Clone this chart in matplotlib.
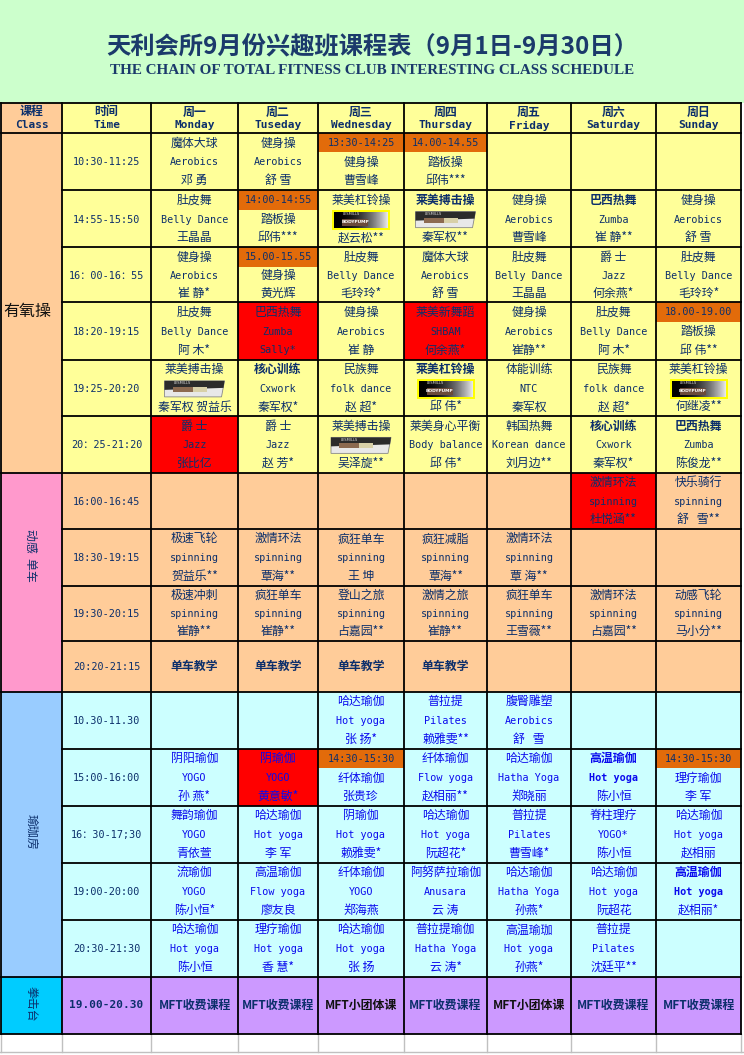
import matplotlib
matplotlib.use('Agg')
import matplotlib.pyplot as plt
from matplotlib.patches import Rectangle, Polygon
import numpy as np

# ---- data -------------------------------------------------------------
title_cn = '天利会所9月份兴趣班课程表（9月1日-9月30日）'
title_en = 'THE CHAIN OF TOTAL FITNESS CLUB INTERESTING CLASS SCHEDULE'

header_cn = ['课程', '时间', '周一', '周二', '周三', '周四', '周五', '周六', '周日']
header_en = ['Class', 'Time', 'Monday', 'Tuseday', 'Wednesday', 'Thursday',
             'Friday', 'Saturday', 'Sunday']

section_names = ['有氧操', '动感  单车', '瑜珈房', '拳击台']

aero_times = ['10:30-11:25', '14:55-15:50', '16：00-16：55', '18:20-19:15',
              '19:25-20:20', '20：25-21:20']
# '|' splits lines, '#PUMP' / '#COMBAT' are the Les Mills logos
aero_cells = [
    ['魔体大球|Aerobics|邓 勇', '健身操|Aerobics|舒 雪', '健身操|曹雪峰', '踏板操|邱伟***', '', '', ''],
    ['肚皮舞|Belly Dance|王晶晶', '踏板操|邱伟***', '莱美杠铃操|#PUMP|赵云松**',
     '莱美搏击操|#COMBAT|秦军权**', '健身操|Aerobics|曹雪峰', '巴西热舞|Zumba|崔 静**',
     '健身操|Aerobics|舒 雪'],
    ['健身操|Aerobics|崔 静*', '健身操|黄光辉', '肚皮舞|Belly Dance|毛玲玲*',
     '魔体大球|Aerobics|舒 雪', '肚皮舞|Belly Dance|王晶晶', '爵 士|Jazz|何余燕*',
     '肚皮舞|Belly Dance|毛玲玲*'],
    ['肚皮舞|Belly Dance|阿 木*', '巴西热舞|Zumba|Sally*', '健身操|Aerobics|崔 静',
     '莱美新舞蹈|SHBAM|何余燕*', '健身操|Aerobics|崔静**', '肚皮舞|Belly Dance|阿 木*',
     '踏板操|邱 伟**'],
    ['莱美搏击操|#COMBAT|秦军权 贺益乐', '核心训练|Cxwork|秦军权*', '民族舞|folk dance|赵 超*',
     '莱美杠铃操|#PUMP|邱 伟*', '体能训练|NTC|秦军权', '民族舞|folk dance|赵 超*',
     '莱美杠铃操|#PUMP|何继凌**'],
    ['爵 士|Jazz|张比亿', '爵 士|Jazz|赵 芳*', '莱美搏击操|#COMBAT|吴泽旋**',
     '莱美身心平衡|Body balance|邱 伟*', '韩国热舞|Korean dance|刘月边**',
     '核心训练|Cxwork|秦军权*', '巴西热舞|Zumba|陈俊龙**'],
]
aero_banners = {(0, 2): '13:30-14:25', (0, 3): '14.00-14.55', (1, 1): '14:00-14:55',
                (2, 1): '15.00-15.55', (3, 6): '18.00-19.00'}
aero_red = [(3, 1), (3, 3), (5, 0)]
aero_bold = [(1, 3), (1, 5), (4, 1), (4, 3), (5, 5), (5, 6)]

spin_times = ['16:00-16:45', '18:30-19:15', '19:30-20:15', '20:20-21:15']
spin_cells = [
    ['', '', '', '', '', '激情环法|spinning|杜悦涵**', '快乐骑行|spinning|舒   雪**'],
    ['极速飞轮|spinning|贺益乐**', '激情环法|spinning|覃海**', '疯狂单车|spinning|王 坤',
     '疯狂减脂|spinning|覃海**', '激情环法|spinning|覃 海**', '', ''],
    ['极速冲刺|spinning|崔静**', '疯狂单车|spinning|崔静**', '登山之旅|spinning|占嘉园**',
     '激情之旅|spinning|崔静**', '疯狂单车|spinning|王雪薇**', '激情环法|spinning|占嘉园**',
     '动感飞轮|spinning|马小分**'],
    ['单车教学', '单车教学', '单车教学', '单车教学', '', '', ''],
]
spin_red = [(0, 5)]

yoga_times = ['10.30-11.30', '15:00-16:00', '16：30-17;30', '19:00-20:00', '20:30-21:30']
yoga_cells = [
    ['', '', '哈达瑜伽|Hot yoga|张 扬*', '普拉提|Pilates|赖雅雯**', '腹臀雕塑|Aerobics|舒   雪', '', ''],
    ['阴阳瑜伽|YOGO|孙 燕*', '阴瑜伽|YOGO|黄意敏*', '纤体瑜伽|张贵珍', '纤体瑜伽|Flow yoga|赵相丽**',
     '哈达瑜伽|Hatha Yoga|郑晓丽', '高温瑜伽|Hot yoga|陈小恒', '理疗瑜伽|李 军'],
    ['舞韵瑜伽|YOGO|青依萱', '哈达瑜伽|Hot yoga|李 军', '阴瑜伽|Hot yoga|赖雅雯*',
     '哈达瑜伽|Hot yoga|阮超花*', '普拉提|Pilates|曹雪峰*', '脊柱理疗|YOGO*|陈小恒',
     '哈达瑜伽|Hot yoga|赵相丽'],
    ['流瑜伽|YOGO|陈小恒*', '高温瑜伽|Flow yoga|廖友良', '纤体瑜伽|YOGO|郑海燕',
     '阿努萨拉瑜伽|Anusara|云 涛', '哈达瑜伽|Hatha Yoga|孙燕*', '哈达瑜伽|Hot yoga|阮超花',
     '高温瑜伽|Hot yoga|赵相丽*'],
    ['哈达瑜伽|Hot yoga|陈小恒', '理疗瑜伽|Hot yoga|香 慧*', '哈达瑜伽|Hot yoga|张 扬',
     '普拉提瑜伽|Hatha Yoga|云 涛*', '高温瑜珈|Hot yoga|孙燕*', '普拉提|Pilates|沈廷平**', ''],
]
yoga_banners = {(1, 2): '14:30-15:30', (1, 6): '14:30-15:30'}
yoga_red = [(1, 1)]
yoga_bold = [(1, 5), (3, 6)]

box_time = '19.00-20.30'
box_cells = ['MFT收费课程', 'MFT收费课程', 'MFT小团体课', 'MFT收费课程',
             'MFT小团体课', 'MFT收费课程', 'MFT收费课程']

# ---- layout / style ----------------------------------------------------
col_x = [1, 62, 151, 238, 318, 404, 487, 571, 656, 741]
row_y = [102.5, 132.5, 190, 247, 302, 359.5, 416, 472.5,
         528.5, 585.5, 640.5, 691.5,
         748.5, 805.5, 862.5, 919.5, 976.5, 1033.5, 1052]

NAVY = '#0c2f6b'
BLUE = '#0a0aee'
YELLOW = '#ffff99'
PEACH = '#ffcc99'
PINK = '#ff99cc'
LBLUE = '#99ccff'
CYAN = '#ccffff'
AQUA = '#00ccff'
LAV = '#cc99ff'
ORANGE = '#e26b0a'
RED = '#ff0000'

CJK = ['Noto Sans CJK SC', 'DejaVu Sans']
MONO = ['DejaVu Sans Mono', 'Noto Sans CJK SC']

fig = plt.figure(figsize=(7.44, 10.55), dpi=100)
ax = fig.add_axes([0, 0, 1, 1])
ax.set_xlim(0, 744)
ax.set_ylim(1055, 0)
ax.axis('off')


def put(x, y, s, color=NAVY, bold=False, size=None):
    has_han = any('\u4e00' <= ch <= '\u9fff' for ch in s)
    if has_han:
        fam, fs = CJK, 8.6
    else:
        fam, fs = MONO, 7.3
    if size is not None:
        fs = size
    ax.text(x, y, s, ha='center', va='center', color=color, family=fam,
            fontsize=fs, fontweight='bold' if bold else 'normal')


def rect(x0, y0, x1, y1, fc):
    ax.add_patch(Rectangle((x0, y0), x1 - x0, y1 - y0, facecolor=fc,
                           edgecolor='none', zorder=0))


def logo_pump(cx, cy):
    w, h = 58, 20
    ax.add_patch(Rectangle((cx - w / 2, cy - h / 2), w, h, facecolor='#ffff00',
                           edgecolor='none', zorder=1))
    grad = np.linspace(0, 1, 50)[None, :] ** 2
    ax.imshow(grad, cmap='gray', extent=(cx - w / 2 + 2, cx + w / 2 - 2, cy + h / 2 - 2, cy - h / 2 + 2),
              aspect='auto', zorder=2, vmin=0, vmax=1.1)
    ax.add_patch(Rectangle((cx - 19, cy - 1), 26, 7, facecolor='#6b4a3a',
                           edgecolor='none', zorder=3))
    ax.text(cx - 6, cy + 2.5, 'BODYPUMP', fontsize=3.2, color='white',
            ha='center', va='center', family='DejaVu Sans', fontweight='bold', zorder=4)
    ax.text(cx - 10, cy - 5.5, 'LESMILLS', fontsize=2.6, color='#dddddd',
            ha='center', va='center', family='DejaVu Sans', zorder=4)


def logo_combat(cx, cy):
    pts = [(cx - 30, cy - 8), (cx + 30, cy - 8), (cx + 27, cy + 8), (cx - 30, cy + 8)]
    ax.add_patch(Polygon(pts, closed=True, facecolor='#e8e8e8', edgecolor='#888888',
                         lw=0.6, zorder=1))
    ax.add_patch(Polygon([(cx - 30, cy - 8), (cx + 30, cy - 8), (cx + 29, cy - 1), (cx - 30, cy + 1)],
                         closed=True, facecolor='#2b2b2b', edgecolor='none', zorder=2))
    ax.add_patch(Rectangle((cx - 22, cy - 2), 22, 5, facecolor='#8c6a50',
                           edgecolor='none', zorder=3))
    ax.add_patch(Rectangle((cx - 2, cy - 2), 14, 5, facecolor='#d8d0a8',
                           edgecolor='none', zorder=3))
    ax.text(cx - 12, cy - 5.5, 'LESMILLS', fontsize=2.6, color='#dddddd',
            ha='center', va='center', family='DejaVu Sans', zorder=4)


def draw_section(r0, times, cells, cell_bg, text_color, banners=None,
                 red=(), bold=(), banner_color=NAVY):
    banners = banners or {}
    for i, t in enumerate(times):
        top, bot = row_y[r0 + i], row_y[r0 + i + 1]
        h = bot - top
        rect(col_x[1], top, col_x[2], bot, cell_bg)
        put((col_x[1] + col_x[2]) / 2, top + 0.52 * h, t, color=NAVY)
        for j, c in enumerate(cells[i]):
            x0, x1 = col_x[j + 2], col_x[j + 3]
            cx = (x0 + x1) / 2
            rect(x0, top, x1, bot, RED if (i, j) in red else cell_bg)
            is_bold = (i, j) in bold
            lines = c.split('|') if c else []
            if (i, j) in banners:
                rect(x0, top, x1, top + 19.5, ORANGE)
                put(cx, top + 10, banners[(i, j)], color=banner_color)
                ys = [top + 0.52 * h, top + 0.84 * h]
            elif len(lines) == 1:
                ys = [top + 0.5 * h]
            else:
                ys = [top + 0.18 * h, top + 0.52 * h, top + 0.84 * h]
            for k, (ln, yy) in enumerate(zip(lines, ys)):
                if ln == '#PUMP':
                    logo_pump(cx, yy)
                elif ln == '#COMBAT':
                    logo_combat(cx, yy)
                else:
                    b = is_bold and (k == 0 or (text_color == BLUE and k == 1))
                    put(cx, yy, ln, color=text_color, bold=b or len(lines) == 1 and c == '单车教学')


# title band
rect(0, 0, 744, row_y[0], '#ccffcc')
ax.text(372, 46, title_cn, ha='center', va='center', family=CJK, fontsize=17.5,
        fontweight='bold', color='#1b3a6b')
ax.text(372, 70, title_en, ha='center', va='center', family=['Liberation Serif'],
        fontsize=10.9, fontweight='bold', color='#1b3a6b')

# header row
rect(col_x[0], row_y[0], col_x[1], row_y[1], PEACH)
rect(col_x[1], row_y[0], col_x[-1], row_y[1], YELLOW)
for j in range(9):
    cx = (col_x[j] + col_x[j + 1]) / 2
    put(cx, row_y[0] + 9.5, header_cn[j], bold=True)
    put(cx, row_y[0] + 23, header_en[j], bold=True, size=8)

# section label column
rect(col_x[0], row_y[1], col_x[1], row_y[7], PEACH)
rect(col_x[0], row_y[7], col_x[1], row_y[11], PINK)
rect(col_x[0], row_y[11], col_x[1], row_y[16], LBLUE)
rect(col_x[0], row_y[16], col_x[1], row_y[17], AQUA)
ax.text(3, 311, section_names[0], ha='left', va='center', family=CJK, fontsize=11.5,
        color='#111111')
ax.text(31, 555, section_names[1], ha='center', va='center', family=CJK, fontsize=8.6,
        color=NAVY, rotation=-90)
ax.text(31, 832, section_names[2], ha='center', va='center', family=CJK, fontsize=8.6,
        color=NAVY, rotation=-90)
ax.text(31, 1004, section_names[3], ha='center', va='center', family=CJK, fontsize=8.6,
        color=NAVY, rotation=-90)

draw_section(1, aero_times, aero_cells, YELLOW, NAVY, aero_banners, aero_red, aero_bold)
draw_section(7, spin_times, spin_cells, PEACH, NAVY, red=spin_red)
draw_section(11, yoga_times, yoga_cells, CYAN, BLUE, yoga_banners, yoga_red, yoga_bold,
             banner_color=NAVY)

# boxing row
top, bot = row_y[16], row_y[17]
rect(col_x[1], top, col_x[-1], bot, LAV)
put((col_x[1] + col_x[2]) / 2, (top + bot) / 2, box_time, bold=True, size=8)
for j, c in enumerate(box_cells):
    cx = (col_x[j + 2] + col_x[j + 3]) / 2
    put(cx, (top + bot) / 2, c, bold=True,
        color='#111111' if '小团体' in c else NAVY)

# blank bottom row, grey grid
rect(0, row_y[17], 744, row_y[18], 'white')
for x in col_x:
    ax.plot([x, x], [row_y[17], row_y[18]], color='#c0c0c0', lw=1, zorder=5)
ax.plot([0, 744], [row_y[18], row_y[18]], color='#c0c0c0', lw=1, zorder=5)

# black grid
lw = 1.3
for y in row_y[:18]:
    if y in (row_y[2], row_y[3], row_y[4], row_y[5], row_y[6],
             row_y[8], row_y[9], row_y[10], row_y[12], row_y[13], row_y[14], row_y[15]):
        ax.plot([col_x[1], col_x[-1]], [y, y], color='black', lw=lw, zorder=6)
    else:
        ax.plot([col_x[0], col_x[-1]], [y, y], color='black', lw=lw, zorder=6)
for x in col_x:
    ax.plot([x, x], [row_y[0], row_y[17]], color='black', lw=lw, zorder=6)

fig.savefig('out.png', dpi=100)
